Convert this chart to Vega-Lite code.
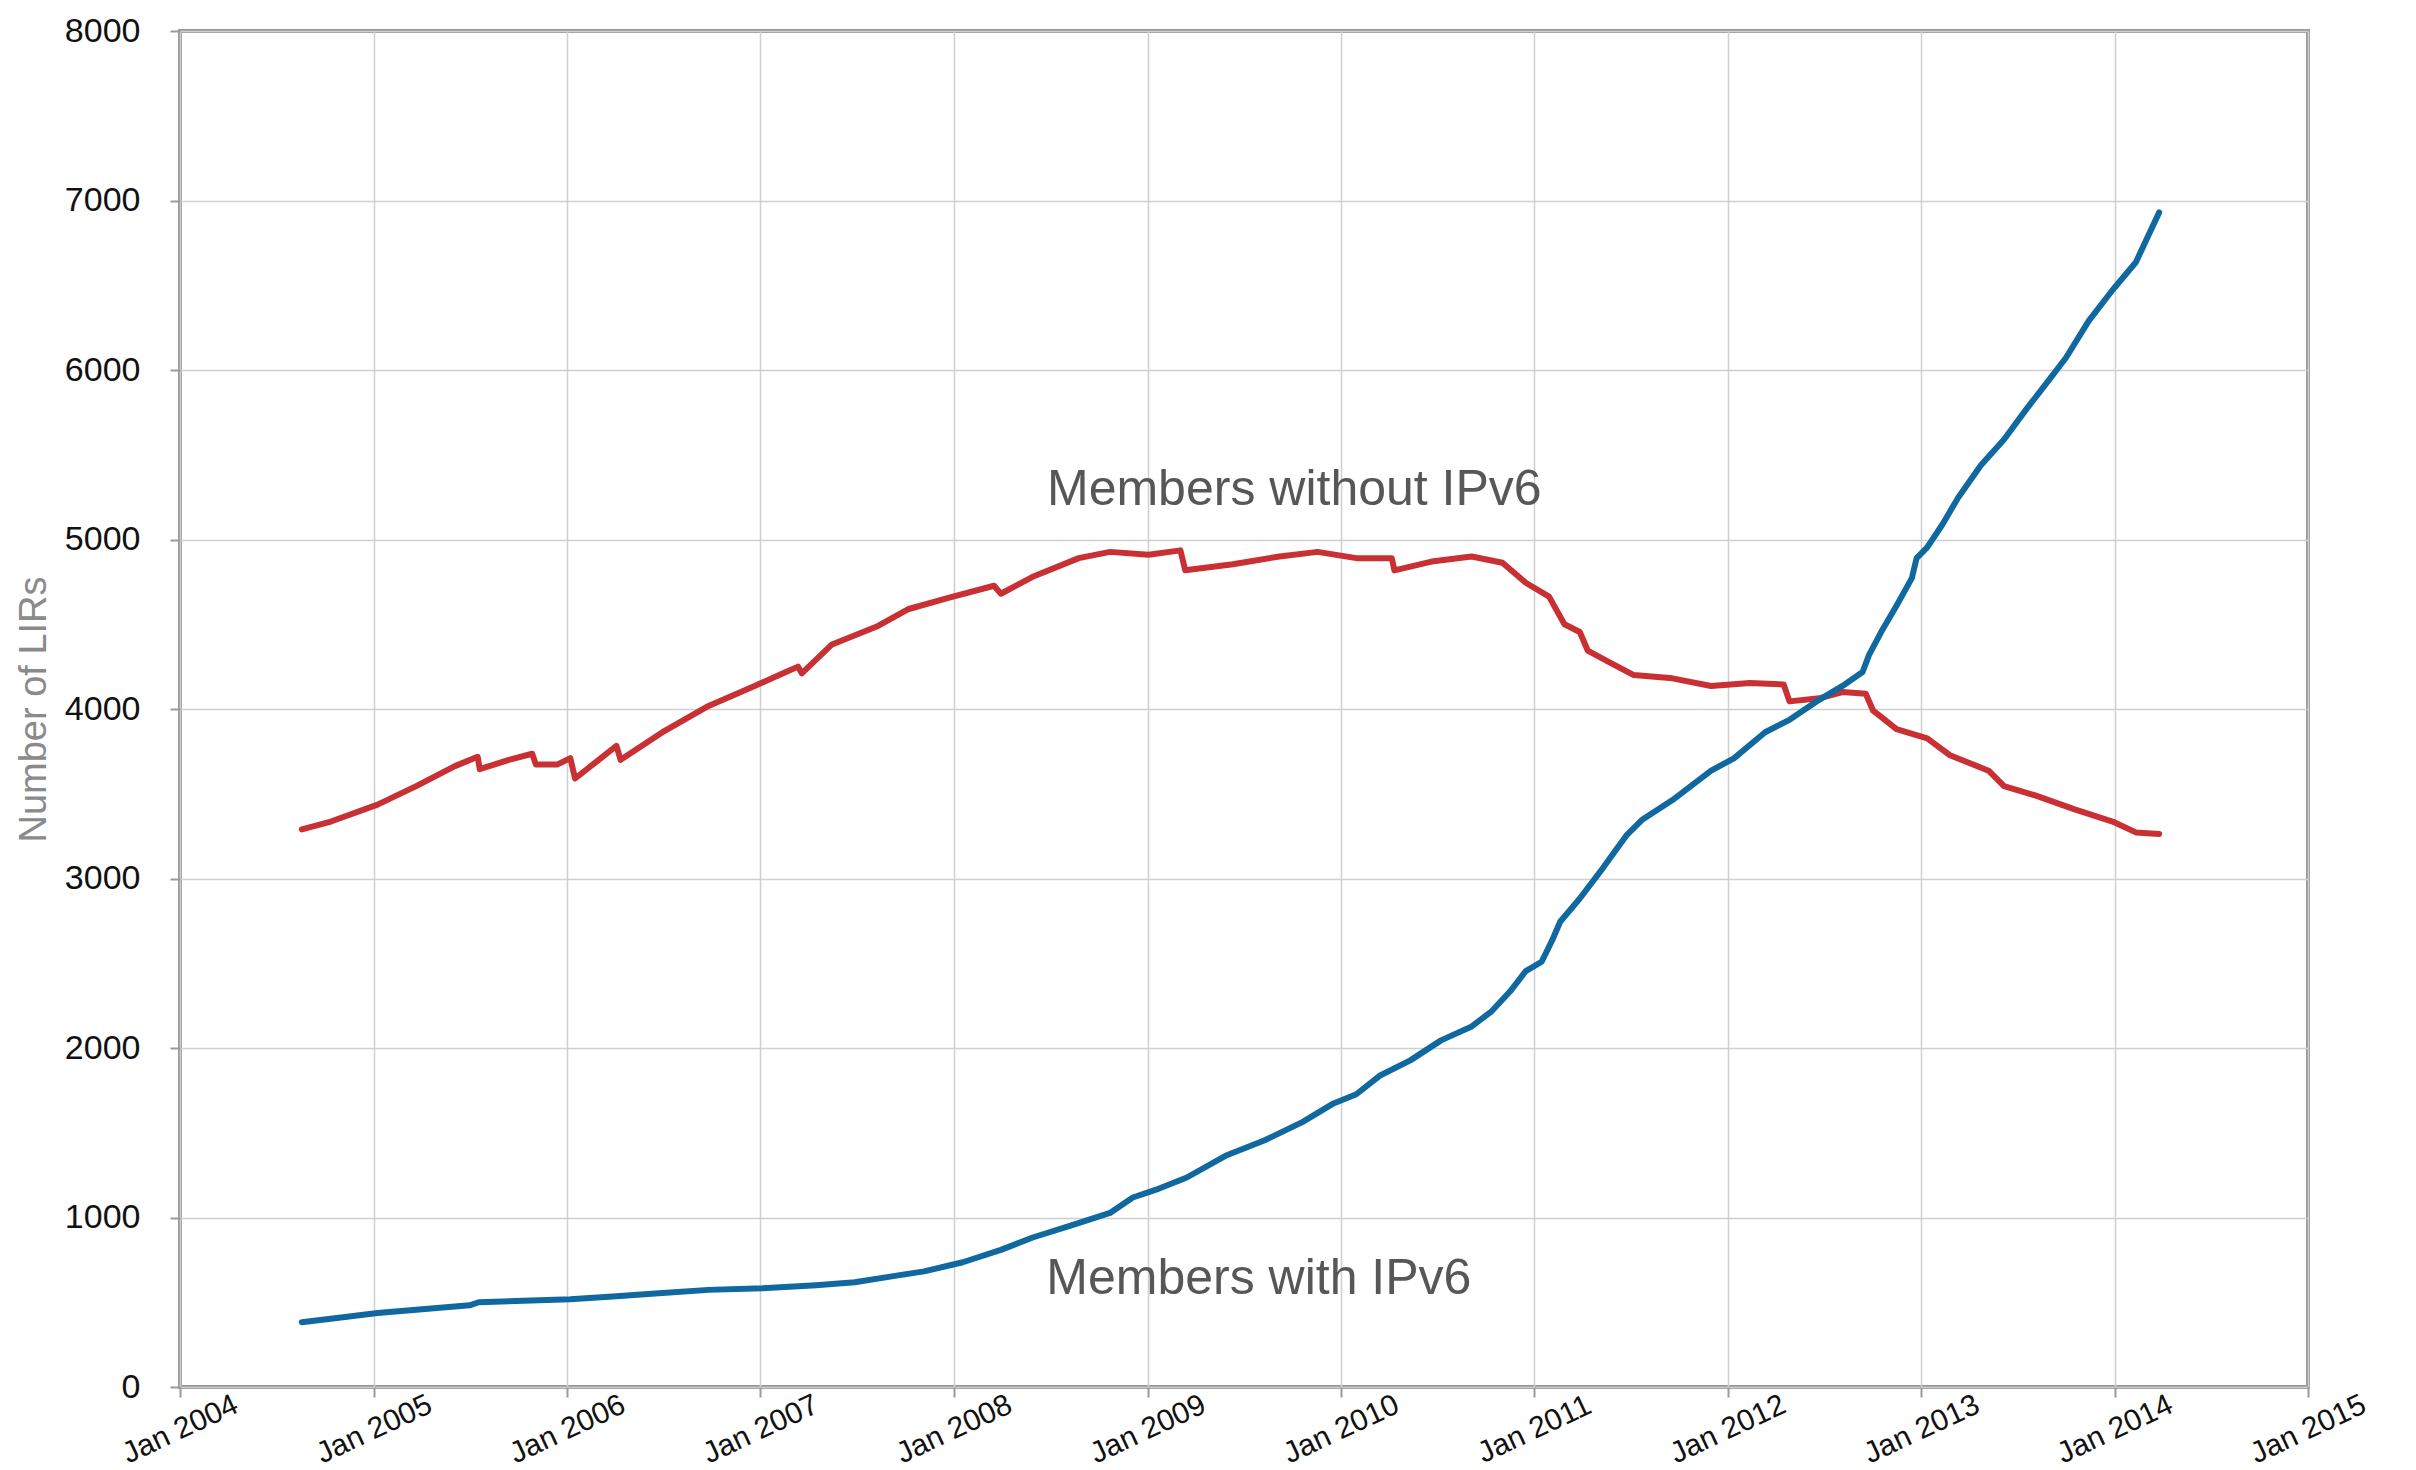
{
  "$schema": "https://vega.github.io/schema/vega-lite/v6.json",
  "autosize": {"type": "none"},
  "width": 2128,
  "height": 1356,
  "padding": {"left": 180, "top": 31, "right": 108, "bottom": 83},
  "background": "white",
  "config": {
    "view": {"stroke": "#9a9a9a", "strokeWidth": 4},
    "font": "Liberation Sans",
    "axis": {
      "domain": false,
      "gridColor": "#cfcfcf",
      "gridWidth": 1.5,
      "tickColor": "#9a9a9a",
      "tickWidth": 2,
      "tickSize": 10,
      "labelColor": "#111111",
      "labelFont": "Liberation Sans"
    }
  },
  "datasets": {
    "series": [
      {"d": "2004-08-18", "v": 3290, "s": "without"},
      {"d": "2004-10-12", "v": 3336, "s": "without"},
      {"d": "2005-01-08", "v": 3436, "s": "without"},
      {"d": "2005-03-22", "v": 3545, "s": "without"},
      {"d": "2005-06-03", "v": 3663, "s": "without"},
      {"d": "2005-07-16", "v": 3718, "s": "without"},
      {"d": "2005-07-20", "v": 3645, "s": "without"},
      {"d": "2005-09-13", "v": 3700, "s": "without"},
      {"d": "2005-10-27", "v": 3736, "s": "without"},
      {"d": "2005-11-03", "v": 3672, "s": "without"},
      {"d": "2005-12-13", "v": 3672, "s": "without"},
      {"d": "2006-01-07", "v": 3710, "s": "without"},
      {"d": "2006-01-16", "v": 3590, "s": "without"},
      {"d": "2006-04-04", "v": 3782, "s": "without"},
      {"d": "2006-04-12", "v": 3700, "s": "without"},
      {"d": "2006-06-30", "v": 3863, "s": "without"},
      {"d": "2006-09-25", "v": 4018, "s": "without"},
      {"d": "2006-12-21", "v": 4136, "s": "without"},
      {"d": "2007-02-18", "v": 4218, "s": "without"},
      {"d": "2007-03-13", "v": 4250, "s": "without"},
      {"d": "2007-03-20", "v": 4210, "s": "without"},
      {"d": "2007-05-16", "v": 4381, "s": "without"},
      {"d": "2007-08-11", "v": 4490, "s": "without"},
      {"d": "2007-10-08", "v": 4590, "s": "without"},
      {"d": "2007-12-20", "v": 4654, "s": "without"},
      {"d": "2008-03-17", "v": 4727, "s": "without"},
      {"d": "2008-03-30", "v": 4680, "s": "without"},
      {"d": "2008-05-29", "v": 4780, "s": "without"},
      {"d": "2008-08-24", "v": 4890, "s": "without"},
      {"d": "2008-10-22", "v": 4927, "s": "without"},
      {"d": "2009-01-03", "v": 4910, "s": "without"},
      {"d": "2009-03-04", "v": 4936, "s": "without"},
      {"d": "2009-03-13", "v": 4818, "s": "without"},
      {"d": "2009-06-11", "v": 4854, "s": "without"},
      {"d": "2009-09-07", "v": 4900, "s": "without"},
      {"d": "2009-11-18", "v": 4927, "s": "without"},
      {"d": "2010-01-30", "v": 4890, "s": "without"},
      {"d": "2010-04-07", "v": 4890, "s": "without"},
      {"d": "2010-04-12", "v": 4818, "s": "without"},
      {"d": "2010-06-25", "v": 4872, "s": "without"},
      {"d": "2010-09-05", "v": 4900, "s": "without"},
      {"d": "2010-11-02", "v": 4863, "s": "without"},
      {"d": "2010-12-16", "v": 4745, "s": "without"},
      {"d": "2011-01-29", "v": 4663, "s": "without"},
      {"d": "2011-02-27", "v": 4500, "s": "without"},
      {"d": "2011-03-28", "v": 4454, "s": "without"},
      {"d": "2011-04-12", "v": 4345, "s": "without"},
      {"d": "2011-05-25", "v": 4272, "s": "without"},
      {"d": "2011-07-08", "v": 4200, "s": "without"},
      {"d": "2011-09-19", "v": 4181, "s": "without"},
      {"d": "2011-12-01", "v": 4136, "s": "without"},
      {"d": "2012-02-12", "v": 4154, "s": "without"},
      {"d": "2012-04-16", "v": 4145, "s": "without"},
      {"d": "2012-04-27", "v": 4045, "s": "without"},
      {"d": "2012-06-22", "v": 4063, "s": "without"},
      {"d": "2012-08-05", "v": 4100, "s": "without"},
      {"d": "2012-09-18", "v": 4090, "s": "without"},
      {"d": "2012-10-02", "v": 3990, "s": "without"},
      {"d": "2012-11-15", "v": 3881, "s": "without"},
      {"d": "2013-01-12", "v": 3827, "s": "without"},
      {"d": "2013-02-24", "v": 3727, "s": "without"},
      {"d": "2013-05-08", "v": 3636, "s": "without"},
      {"d": "2013-06-06", "v": 3545, "s": "without"},
      {"d": "2013-08-04", "v": 3490, "s": "without"},
      {"d": "2013-10-16", "v": 3409, "s": "without"},
      {"d": "2013-12-28", "v": 3336, "s": "without"},
      {"d": "2014-02-10", "v": 3272, "s": "without"},
      {"d": "2014-03-26", "v": 3263, "s": "without"},
      {"d": "2004-08-18", "v": 382, "s": "with"},
      {"d": "2004-10-27", "v": 409, "s": "with"},
      {"d": "2005-01-08", "v": 436, "s": "with"},
      {"d": "2005-04-19", "v": 463, "s": "with"},
      {"d": "2005-07-01", "v": 482, "s": "with"},
      {"d": "2005-07-18", "v": 500, "s": "with"},
      {"d": "2005-10-11", "v": 509, "s": "with"},
      {"d": "2006-01-07", "v": 518, "s": "with"},
      {"d": "2006-04-04", "v": 536, "s": "with"},
      {"d": "2006-06-30", "v": 554, "s": "with"},
      {"d": "2006-09-25", "v": 573, "s": "with"},
      {"d": "2007-01-05", "v": 582, "s": "with"},
      {"d": "2007-04-16", "v": 600, "s": "with"},
      {"d": "2007-06-28", "v": 618, "s": "with"},
      {"d": "2007-09-09", "v": 654, "s": "with"},
      {"d": "2007-11-06", "v": 682, "s": "with"},
      {"d": "2008-01-18", "v": 736, "s": "with"},
      {"d": "2008-03-30", "v": 809, "s": "with"},
      {"d": "2008-05-29", "v": 882, "s": "with"},
      {"d": "2008-08-10", "v": 954, "s": "with"},
      {"d": "2008-10-22", "v": 1027, "s": "with"},
      {"d": "2008-12-04", "v": 1118, "s": "with"},
      {"d": "2009-01-17", "v": 1164, "s": "with"},
      {"d": "2009-03-16", "v": 1236, "s": "with"},
      {"d": "2009-05-28", "v": 1364, "s": "with"},
      {"d": "2009-08-09", "v": 1454, "s": "with"},
      {"d": "2009-10-21", "v": 1564, "s": "with"},
      {"d": "2009-12-18", "v": 1673, "s": "with"},
      {"d": "2010-01-30", "v": 1727, "s": "with"},
      {"d": "2010-03-15", "v": 1836, "s": "with"},
      {"d": "2010-05-12", "v": 1927, "s": "with"},
      {"d": "2010-07-09", "v": 2045, "s": "with"},
      {"d": "2010-09-05", "v": 2127, "s": "with"},
      {"d": "2010-10-13", "v": 2218, "s": "with"},
      {"d": "2010-11-17", "v": 2336, "s": "with"},
      {"d": "2010-12-16", "v": 2454, "s": "with"},
      {"d": "2011-01-15", "v": 2509, "s": "with"},
      {"d": "2011-02-04", "v": 2636, "s": "with"},
      {"d": "2011-02-19", "v": 2745, "s": "with"},
      {"d": "2011-03-28", "v": 2882, "s": "with"},
      {"d": "2011-05-11", "v": 3063, "s": "with"},
      {"d": "2011-06-24", "v": 3254, "s": "with"},
      {"d": "2011-07-23", "v": 3345, "s": "with"},
      {"d": "2011-09-19", "v": 3463, "s": "with"},
      {"d": "2011-12-01", "v": 3636, "s": "with"},
      {"d": "2012-01-13", "v": 3709, "s": "with"},
      {"d": "2012-03-12", "v": 3863, "s": "with"},
      {"d": "2012-04-27", "v": 3936, "s": "with"},
      {"d": "2012-06-22", "v": 4054, "s": "with"},
      {"d": "2012-08-05", "v": 4136, "s": "with"},
      {"d": "2012-09-12", "v": 4218, "s": "with"},
      {"d": "2012-09-24", "v": 4318, "s": "with"},
      {"d": "2012-10-17", "v": 4454, "s": "with"},
      {"d": "2012-11-15", "v": 4609, "s": "with"},
      {"d": "2012-12-14", "v": 4772, "s": "with"},
      {"d": "2012-12-23", "v": 4890, "s": "with"},
      {"d": "2013-01-12", "v": 4954, "s": "with"},
      {"d": "2013-02-10", "v": 5090, "s": "with"},
      {"d": "2013-03-11", "v": 5245, "s": "with"},
      {"d": "2013-04-23", "v": 5436, "s": "with"},
      {"d": "2013-06-06", "v": 5590, "s": "with"},
      {"d": "2013-07-19", "v": 5772, "s": "with"},
      {"d": "2013-09-02", "v": 5954, "s": "with"},
      {"d": "2013-10-01", "v": 6072, "s": "with"},
      {"d": "2013-11-13", "v": 6290, "s": "with"},
      {"d": "2013-12-28", "v": 6472, "s": "with"},
      {"d": "2014-02-10", "v": 6636, "s": "with"},
      {"d": "2014-03-26", "v": 6930, "s": "with"}
    ],
    "labels": [
      {"d": "2009-10-05", "v": 5291, "t": "Members without IPv6"},
      {"d": "2009-07-30", "v": 636, "t": "Members with IPv6"}
    ]
  },
  "layer": [
    {
      "data": {"name": "series"},
      "mark": {"type": "line", "strokeWidth": 6, "strokeJoin": "round", "strokeCap": "round"},
      "encoding": {
        "x": {
          "field": "d",
          "type": "temporal",
          "scale": {
            "type": "utc",
            "domain": [
              {"year": 2004, "month": 1, "date": 1, "utc": true},
              {"year": 2015, "month": 1, "date": 1, "utc": true}
            ],
            "nice": false
          },
          "axis": {
            "title": null,
            "format": "%b %Y",
            "tickCount": {"interval": "year", "step": 1},
            "labelAngle": -25,
            "labelAlign": "center",
            "labelBaseline": "middle",
            "labelPadding": 32,
            "labelFontSize": 30,
            "labelOverlap": false,
            "labelFlush": false
          }
        },
        "y": {
          "field": "v",
          "type": "quantitative",
          "scale": {"domain": [0, 8000], "nice": false},
          "axis": {
            "title": "Number of LIRs",
            "values": [0, 1000, 2000, 3000, 4000, 5000, 6000, 7000, 8000],
            "format": "d",
            "labelFontSize": 34,
            "labelPadding": 30,
            "labelFlush": false,
            "titleFontSize": 38,
            "titleFontWeight": "normal",
            "titleColor": "#8a8a8a",
            "titleX": -146,
            "titleY": 678,
            "titleAngle": -90,
            "titleAlign": "center",
            "titleBaseline": "middle"
          }
        },
        "color": {
          "field": "s",
          "type": "nominal",
          "scale": {"domain": ["without", "with"], "range": ["#c93034", "#0f68a0"]},
          "legend": null
        }
      }
    },
    {
      "data": {"name": "labels"},
      "mark": {"type": "text", "fontSize": 50, "color": "#575757", "font": "Liberation Sans", "align": "center", "baseline": "middle"},
      "encoding": {
        "x": {"field": "d", "type": "temporal"},
        "y": {"field": "v", "type": "quantitative"},
        "text": {"field": "t"}
      }
    }
  ]
}
